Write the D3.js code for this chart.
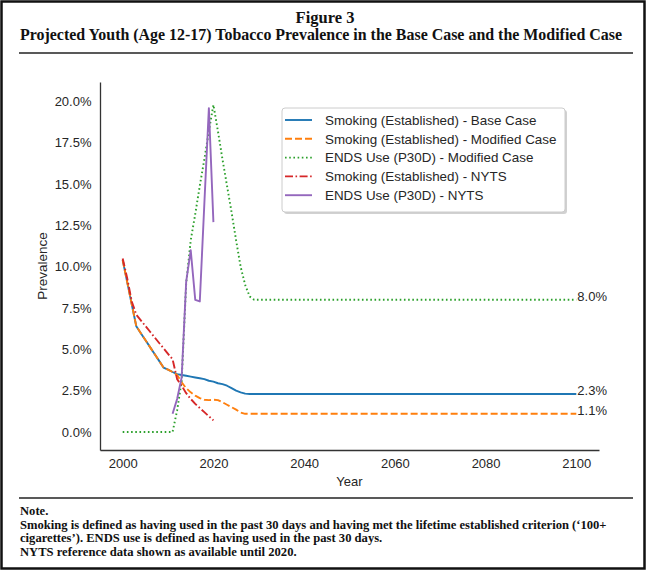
<!DOCTYPE html>
<html>
<head>
<meta charset="utf-8">
<script src="https://cdn.jsdelivr.net/npm/d3@7"></script>
<style>
  html, body { margin: 0; padding: 0; background: #fff; }
  svg { display: block; }
</style>
</head>
<body>
<div id="chart"></div>
<script>
// ---------- data ----------
const xTicks = [2000, 2020, 2040, 2060, 2080, 2100];
const yTicks = [0, 2.5, 5, 7.5, 10, 12.5, 15, 17.5, 20];

const smokingBaseYears = [2000,2001,2002,2003,2004,2005,2006,2007,2008,2009,2010,2011,2012,2013,2014,2015,2016,2017,2018,2019,2020,2021,2022,2023,2024,2025,2026,2027,2028,2100];
const smokingBaseValues = [10.4,9.07,7.73,6.4,5.98,5.57,5.15,4.73,4.32,3.9,3.77,3.63,3.5,3.45,3.4,3.35,3.3,3.25,3.2,3.1,3.05,2.95,2.9,2.8,2.65,2.5,2.4,2.32,2.3,2.3];

const smokingModYears = [2000,2001,2002,2003,2004,2005,2006,2007,2008,2009,2010,2011,2012,2013,2014,2015,2016,2017,2018,2019,2020,2021,2022,2023,2024,2025,2026,2027,2100];
const smokingModValues = [10.4,9.07,7.73,6.4,5.98,5.57,5.15,4.73,4.32,3.9,3.77,3.63,3.45,3.0,2.65,2.4,2.2,2.05,1.95,1.93,1.95,1.93,1.8,1.65,1.5,1.35,1.18,1.1,1.1];

const endsModYears = [2000,2011,2012,2013,2014,2015,2016,2017,2018,2019,2020,2021,2022,2023,2024,2025,2026,2027,2028,2029,2030,2100];
const endsModValues = [0,0,1.3,3.1,9.0,11.6,13.2,14.9,16.5,18.2,19.8,18.2,16.5,14.9,13.3,11.6,10.0,8.9,8.2,8.0,8.0,8.0];

const smokingNytsYears = [2000,2001,2002,2003,2004,2005,2006,2007,2008,2009,2010,2011,2012,2013,2014,2015,2016,2017,2018,2019,2020];
const smokingNytsValues = [10.5,9.3,7.9,7.1,6.76,6.42,6.08,5.74,5.4,5.07,4.73,4.4,3.2,2.8,2.35,2.0,1.7,1.45,1.2,0.95,0.7];

const endsNytsYears = [2011,2012,2013,2014,2015,2016,2017,2018,2019,2020];
const endsNytsValues = [1.1,2.0,3.3,9.1,11.0,8.0,7.9,13.8,19.6,12.7];

const seriesNames = [
  "Smoking (Established) - Base Case",
  "Smoking (Established) - Modified Case",
  "ENDS Use (P30D) - Modified Case",
  "Smoking (Established) - NYTS",
  "ENDS Use (P30D) - NYTS"
];
const seriesColors = ["#1f77b4", "#ff7f0e", "#2ca02c", "#d62728", "#9467bd"];
const seriesDashes = [null, "7,3", "1.6,2.6", "8,2.5,1.6,2.5", null];

const endLabels = ["8.0%", "2.3%", "1.1%"];
const endLabelValues = [8.0, 2.3, 1.1];

const titleText = "Figure 3";
const subtitleText = "Projected Youth (Age 12-17) Tobacco Prevalence in the Base Case and the Modified Case";
const noteLines = [
  "Note.",
  "Smoking is defined as having used in the past 30 days and having met the lifetime established criterion (\u2018100+",
  "cigarettes\u2019). ENDS use is defined as having used in the past 30 days.",
  "NYTS reference data shown as available until 2020."
];

// ---------- drawing ----------
const W = 650, H = 572;
const svg = d3.select("#chart").append("svg")
  .attr("width", W).attr("height", H);

svg.append("rect").attr("x", 0).attr("y", 0).attr("width", W).attr("height", H).attr("fill", "#fff");
// frame
svg.append("rect").attr("x", 1.5).attr("y", 1.5).attr("width", 643).attr("height", 567)
  .attr("fill", "none").attr("stroke", "#111").attr("stroke-width", 2.5);

const serif = "'Liberation Serif', 'Times New Roman', serif";
const sans = "'Liberation Sans', Arial, sans-serif";

svg.append("text").attr("x", 325).attr("y", 23).attr("text-anchor", "middle")
  .style("font-family", serif).style("font-weight", "bold").style("font-size", "16.5px")
  .attr("fill", "#111").text(titleText);
svg.append("text").attr("x", 20).attr("y", 40)
  .attr("textLength", 602).attr("lengthAdjust", "spacingAndGlyphs")
  .style("font-family", serif).style("font-weight", "bold").style("font-size", "16px")
  .attr("fill", "#111").text(subtitleText);
svg.append("line").attr("x1", 19).attr("x2", 633).attr("y1", 53).attr("y2", 53)
  .attr("stroke", "#222").attr("stroke-width", 1.3);

// scales
const x = d3.scaleLinear().domain([1995, 2105]).range([100, 599]);
const y = d3.scaleLinear().domain([-1.09, 21.18]).range([450, 82]);

// axes
const gx = svg.append("g").attr("transform", "translate(0,450)")
  .call(d3.axisBottom(x).tickValues(xTicks).tickFormat(d3.format("d")).tickSize(0).tickSizeOuter(0).tickPadding(9));
const gy = svg.append("g").attr("transform", "translate(100,0)")
  .call(d3.axisLeft(y).tickValues(yTicks).tickFormat(d => d.toFixed(1) + "%").tickSize(0).tickSizeOuter(0).tickPadding(8.5));
[gx, gy].forEach(g => {
  g.select(".domain").attr("stroke", "#333").attr("stroke-width", 1.3);
  g.selectAll("text").style("font-family", sans).style("font-size", "13px").attr("fill", "#262626");
});

svg.append("text").attr("x", 349.5).attr("y", 485.5).attr("text-anchor", "middle")
  .style("font-family", sans).style("font-size", "13px").attr("fill", "#262626").text("Year");
svg.append("text").attr("transform", "translate(46.5,266) rotate(-90)").attr("text-anchor", "middle")
  .style("font-family", sans).style("font-size", "13.5px").attr("fill", "#262626").text("Prevalence");

// series
const seriesData = [
  [smokingBaseYears, smokingBaseValues],
  [smokingModYears, smokingModValues],
  [endsModYears, endsModValues],
  [smokingNytsYears, smokingNytsValues],
  [endsNytsYears, endsNytsValues]
];
const line = d3.line().x(d => x(d[0])).y(d => y(d[1]));
seriesData.forEach(([ys, vs], i) => {
  const pts = ys.map((yr, k) => [yr, vs[k]]);
  svg.append("path").datum(pts).attr("d", line)
    .attr("fill", "none").attr("stroke", seriesColors[i]).attr("stroke-width", 1.9)
    .attr("stroke-dasharray", seriesDashes[i]).attr("stroke-linejoin", "round");
});

// end labels
endLabels.forEach((t, i) => {
  svg.append("text").attr("x", x(2100) + 1).attr("y", y(endLabelValues[i]) + 1)
    .style("font-family", sans).style("font-size", "13px").attr("fill", "#262626").text(t);
});

// legend
const lg = svg.append("g");
lg.append("rect").attr("x", 284).attr("y", 110).attr("width", 283).attr("height", 104).attr("rx", 3)
  .attr("fill", "#999").attr("opacity", 0.45);
lg.append("rect").attr("x", 282).attr("y", 108).attr("width", 283).attr("height", 104).attr("rx", 3)
  .attr("fill", "#fff").attr("stroke", "#ccc").attr("stroke-width", 1);
seriesNames.forEach((name, i) => {
  const yy = 120 + i * 18.8;
  lg.append("line").attr("x1", 285).attr("x2", 312).attr("y1", yy).attr("y2", yy)
    .attr("stroke", seriesColors[i]).attr("stroke-width", 1.9).attr("stroke-dasharray", seriesDashes[i]);
  lg.append("text").attr("x", 325).attr("y", yy + 4.7)
    .style("font-family", sans).style("font-size", "13.4px").attr("fill", "#262626").text(name);
});

// note
svg.append("line").attr("x1", 19).attr("x2", 633).attr("y1", 498).attr("y2", 498)
  .attr("stroke", "#222").attr("stroke-width", 1.3);
const noteY = [515, 528.5, 542, 555.5];
noteLines.forEach((t, i) => {
  svg.append("text").attr("x", 20).attr("y", noteY[i])
    .style("font-family", serif).style("font-weight", "bold").style("font-size", "12.6px")
    .attr("fill", "#111").text(t);
});
</script>
</body>
</html>
